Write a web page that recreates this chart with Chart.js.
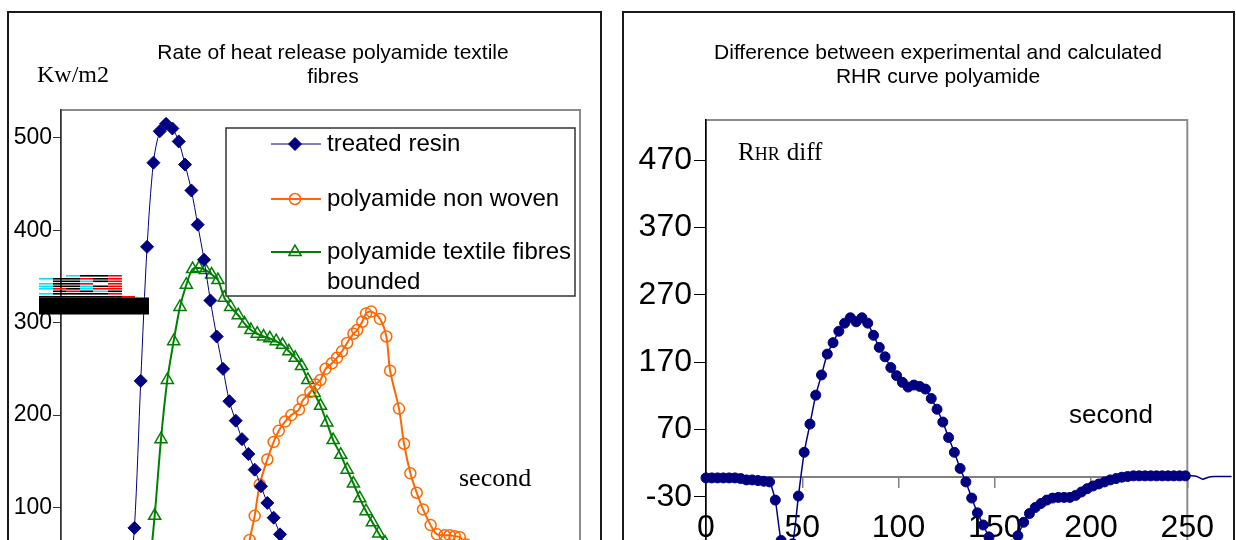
<!DOCTYPE html>
<html>
<head>
<meta charset="utf-8">
<script src="https://cdn.jsdelivr.net/npm/chart.js@4.4.0/dist/chart.umd.min.js"></script>
<style>
  html, body { margin: 0; padding: 0; background: #fff; overflow: hidden; }
  #page { position: relative; width: 1236px; height: 540px; overflow: hidden; }
  .panel { position: absolute; border: 2px solid #1a1a1a; box-sizing: border-box; }
  #panelL { left: 7px; top: 11px; width: 595px; height: 640px; }
  #panelR { left: 622px; top: 11px; width: 613px; height: 640px; }
  .wrap { position: absolute; top: 0; height: 640px; }
  #wrapL { left: 0; width: 610px; }
  #wrapR { left: 610px; width: 626px; }
</style>
</head>
<body>
<div id="page">
  <div class="panel" id="panelL"></div>
  <div class="panel" id="panelR"></div>
  <div class="wrap" id="wrapL"><canvas id="rhrChart"></canvas></div>
  <div class="wrap" id="wrapR"><canvas id="diffChart"></canvas></div>
</div>
<script>
// ---- left chart: rate of heat release (kW/m2 vs seconds)
const resinTime = [53, 58, 63, 68, 73, 78, 83, 88, 93, 98, 103, 108, 113, 118, 123, 128, 133, 138, 143, 148, 153, 158, 163, 168, 173, 178, 183];
const resinRhr  = [12, 78, 237, 382, 473, 507, 515, 510, 496, 471, 443, 406, 368, 324, 285, 250, 215, 194, 174, 158, 141, 123, 105, 89, 71, 55, 40];

const wovenTime = [145, 149, 153, 157, 163, 168, 172, 177, 182, 188, 191, 197, 201, 205, 209, 214, 218, 222, 226, 231, 234, 238, 241, 245, 252, 257, 260, 267, 271, 276, 281, 286, 292, 297, 303, 307, 311, 315, 320, 325];
const wovenRhr  = [35, 65, 91, 125, 152, 171, 183, 193, 200, 206, 216, 225, 233, 238, 250, 256, 262, 269, 278, 288, 292, 301, 310, 312, 304, 285, 248, 207, 169, 137, 116, 98, 81, 71, 70, 70, 69, 68, 60, 48];

const fibreTime = [69, 74, 79, 84, 89, 94, 99, 104, 109, 114, 119, 124, 129, 134, 140, 145, 150, 155, 160, 165, 170, 175, 180, 185, 190, 195, 200, 205, 210, 215, 221, 226, 231, 236, 241, 246, 251, 256, 261];
const fibreRhr  = [20, 91, 174, 238, 280, 317, 341, 358, 359, 357, 352, 346, 327, 317, 308, 299, 292, 288, 285, 283, 280, 276, 269, 262, 253, 238, 224, 210, 192, 173, 157, 141, 126, 110, 96, 84, 72, 62, 52];

const rhrTicks = [0, 100, 200, 300, 400, 500];

// ---- right chart: difference between experimental and calculated RHR
const diffTime = [0, 3, 6, 9, 12, 15, 18, 21, 24, 27, 30, 33, 36, 39, 42, 45, 48, 51, 54, 57, 60, 63, 66, 69, 72, 75, 78, 81, 84, 87, 90, 93, 96, 99, 102, 105, 108, 111, 114, 117, 120, 123, 126, 129, 132, 135, 138, 141, 144, 147, 150, 153, 156, 159, 162, 165, 168, 171, 174, 177, 180, 183, 186, 189, 192, 195, 198, 201, 204, 207, 210, 213, 216, 219, 222, 225, 228, 231, 234, 237, 240, 243, 246, 249, 252, 255, 258, 261, 264, 267, 270, 273];
const diffRhr  = [-2, -2, -2, -2, -2, -2, -3, -5, -5, -6, -7, -8, -35, -95, -105, -100, -29, 36, 78, 121, 151, 182, 199, 216, 228, 236, 230, 236, 228, 210, 192, 178, 162, 150, 140, 133, 136, 134, 130, 116, 100, 81, 58, 36, 12, -8, -32, -54, -72, -90, -105, -112, -112, -102, -88, -68, -55, -46, -40, -35, -32, -31, -31, -31, -28, -23, -18, -14, -11, -8, -5, -3, -1, 0, 1, 1, 1, 1, 1, 1, 1, 1, 1, 1, 1, 0, -4, -1, 0, 0, 0, 0];
const diffTicks = [-130, -30, 70, 170, 270, 370, 470];
const secTicks = [0, 50, 100, 150, 200, 250];

const NAVY = '#000080', ORANGE = '#ff6600', GREEN = '#008000';
const SANS = '"Liberation Sans", Arial, sans-serif';
const SERIF = '"Liberation Serif", "Times New Roman", serif';
const zip = (xs, ys) => xs.map((x, i) => ({ x: x, y: ys[i] }));

function plotBox(color) {
  return {
    id: 'plotBox',
    beforeDraw(chart) {
      const a = chart.chartArea, ctx = chart.ctx;
      ctx.save();
      ctx.strokeStyle = color;
      ctx.lineWidth = 2;
      ctx.strokeRect(a.left, a.top, a.right - a.left, a.bottom - a.top);
      ctx.restore();
    }
  };
}

// stray stripes that sit on the left axis in the original picture
const stripes = [
  [275, [[66, 80, '#00e5ff'], [80, 108, '#000'], [108, 122, '#ff0000']]],
  [278, [[39, 53, '#00e5ff'], [53, 80, '#000'], [80, 93, '#ff0000'], [93, 108, '#000'], [108, 122, '#ff0000']]],
  [280.5, [[53, 80, '#000'], [80, 93, '#00e5ff'], [93, 108, '#000'], [108, 122, '#ff0000']]],
  [283, [[39, 53, '#00e5ff'], [53, 80, '#000'], [80, 93, '#ff0000'], [108, 122, '#ff0000']]],
  [285.5, [[39, 53, '#00e5ff'], [53, 80, '#000'], [80, 93, '#00e5ff'], [93, 108, '#000'], [108, 122, '#ff0000']]],
  [288, [[39, 53, '#00e5ff'], [53, 66, '#ff0000'], [66, 80, '#000'], [80, 93, '#00e5ff'], [93, 122, '#ff0000']]],
  [290.5, [[53, 66, '#000'], [66, 80, '#ff0000'], [80, 93, '#000'], [93, 108, '#00e5ff'], [108, 122, '#000']]],
  [293, [[39, 53, '#00e5ff'], [53, 108, '#000'], [108, 122, '#ff0000']]],
  [296, [[39, 122, '#000'], [122, 135, '#ff0000']]]
];

const leftDeco = {
  id: 'leftDeco',
  afterDraw(chart) {
    const ctx = chart.ctx;
    ctx.save();
    ctx.fillStyle = '#000';
    ctx.textAlign = 'center';
    ctx.textBaseline = 'middle';
    ctx.font = '21px ' + SANS;
    ctx.fillText('Rate of heat release polyamide textile', 333, 53);
    ctx.fillText('fibres', 333, 77);
    ctx.textAlign = 'left';
    ctx.textBaseline = 'alphabetic';
    ctx.font = '24px ' + SERIF;
    ctx.fillText('Kw/m2', 37, 81.5);
    ctx.font = '26px ' + SERIF;
    ctx.fillText('second', 459, 486);

    // legend
    ctx.fillStyle = '#fff';
    ctx.fillRect(226, 128, 349, 168);
    ctx.strokeStyle = '#333';
    ctx.lineWidth = 1.5;
    ctx.strokeRect(226, 128, 349, 168);
    const rows = [144, 199, 252];
    chart.data.datasets.forEach((ds, i) => {
      const y = rows[i];
      ctx.strokeStyle = ds.borderColor;
      ctx.lineWidth = ds.borderWidth;
      ctx.beginPath();
      ctx.moveTo(271, y);
      ctx.lineTo(321, y);
      ctx.stroke();
      ctx.fillStyle = ds.pointBackgroundColor;
      ctx.lineWidth = ds.pointBorderWidth;
      Chart.helpers.drawPoint(ctx, { pointStyle: ds.pointStyle, radius: ds.pointRadius, rotation: 0, borderWidth: ds.pointBorderWidth }, 295, y);
      ctx.fillStyle = '#000';
      ctx.font = '24px ' + SANS;
      ctx.textBaseline = 'middle';
      ds.label.split('\n').forEach((t, j) => ctx.fillText(t, 327, y + j * 30));
    });

    stripes.forEach(([y, segs]) => {
      segs.forEach(([x0, x1, c]) => { ctx.fillStyle = c; ctx.fillRect(x0, y, x1 - x0, 1.6); });
    });
    ctx.fillStyle = '#000';
    ctx.fillRect(39, 297.5, 110, 17);
    ctx.restore();
  }
};

new Chart(document.getElementById('rhrChart'), {
  type: 'line',
  data: {
    datasets: [
      { label: 'treated resin', data: zip(resinTime, resinRhr), borderColor: NAVY, borderWidth: 1,
        pointStyle: 'rectRot', pointRadius: 6.5, pointBackgroundColor: NAVY, pointBorderColor: NAVY, pointBorderWidth: 1, tension: 0.3 },
      { label: 'polyamide non woven', data: zip(wovenTime, wovenRhr), borderColor: ORANGE, borderWidth: 2,
        pointStyle: 'circle', pointRadius: 5.5, pointBackgroundColor: 'rgba(0,0,0,0)', pointBorderColor: ORANGE, pointBorderWidth: 1.5, tension: 0.3 },
      { label: 'polyamide textile fibres\nbounded', data: zip(fibreTime, fibreRhr), borderColor: GREEN, borderWidth: 2,
        pointStyle: 'triangle', pointRadius: 7, pointBackgroundColor: 'rgba(0,0,0,0)', pointBorderColor: GREEN, pointBorderWidth: 1.5, tension: 0.3 }
    ]
  },
  options: {
    responsive: true,
    maintainAspectRatio: false,
    animation: false,
    layout: { padding: { top: 110, right: 30, bottom: 40, left: 0 } },
    plugins: { legend: { display: false }, tooltip: { enabled: false } },
    scales: {
      x: { type: 'linear', min: 0, max: 410, display: false },
      y: {
        min: 0, max: 530,
        afterBuildTicks: s => { s.ticks = rhrTicks.map(v => ({ value: v })); },
        afterFit: s => { s.width = 61; },
        grid: { drawOnChartArea: false, tickLength: 8, color: '#333' },
        border: { color: '#333', width: 1.5 },
        ticks: { color: '#000', padding: 1, font: { family: SANS, size: 23 } }
      }
    }
  },
  plugins: [plotBox('#8c8c8c'), leftDeco]
});

const rightDeco = {
  id: 'rightDeco',
  afterDraw(chart) {
    const ctx = chart.ctx;
    ctx.save();
    ctx.fillStyle = '#000';
    ctx.textAlign = 'center';
    ctx.textBaseline = 'middle';
    ctx.font = '21px ' + SANS;
    ctx.fillText('Difference between experimental and calculated', 328, 53);
    ctx.fillText('RHR curve polyamide', 328, 77);
    ctx.textAlign = 'left';
    ctx.textBaseline = 'alphabetic';
    ctx.font = '26px ' + SANS;
    ctx.fillText('second', 459, 423);
    // small-caps style label
    let x = 128;
    ctx.font = '25px ' + SERIF;
    ctx.fillText('R', x, 160);
    x += ctx.measureText('R').width;
    ctx.font = '18px ' + SERIF;
    ctx.fillText('HR', x, 160);
    x += ctx.measureText('HR').width + 7;
    ctx.font = '25px ' + SERIF;
    ctx.fillText('diff', x, 160);
    ctx.restore();
  }
};

new Chart(document.getElementById('diffChart'), {
  type: 'line',
  data: {
    datasets: [
      { label: 'RHR diff', data: zip(diffTime, diffRhr), borderColor: NAVY, borderWidth: 1.5,
        pointStyle: 'circle', pointBackgroundColor: NAVY, pointBorderColor: NAVY, pointBorderWidth: 1,
        pointRadius: c => (c.raw && c.raw.x > 250 ? 0 : 5), tension: 0.2, clip: false }
    ]
  },
  options: {
    responsive: true,
    maintainAspectRatio: false,
    animation: false,
    layout: { padding: { top: 120, right: 47, bottom: 76, left: 0 } },
    plugins: { legend: { display: false }, tooltip: { enabled: false } },
    scales: {
      x: {
        type: 'linear', bounds: 'data', position: { y: 0 },
        // range fixed here (not via min/max) so the trace past 250 is still drawn
        afterDataLimits: s => { s.min = 0; s.max = 250; },
        afterBuildTicks: s => { s.ticks = secTicks.map(v => ({ value: v })); },
        grid: { drawOnChartArea: false, tickLength: 10, color: '#808080', lineWidth: 1.5 },
        border: { color: '#808080', width: 2 },
        ticks: { color: '#000', padding: 22, autoSkip: false, maxRotation: 0, font: { family: SANS, size: 32 } }
      },
      y: {
        min: -130, max: 530,
        afterBuildTicks: s => { s.ticks = diffTicks.map(v => ({ value: v })); },
        afterFit: s => { s.width = 96; },
        grid: { drawOnChartArea: false, tickLength: 12, color: '#000' },
        border: { color: '#000', width: 1.5 },
        ticks: { color: '#000', padding: 2, font: { family: SANS, size: 32 } }
      }
    }
  },
  plugins: [plotBox('#8c8c8c'), rightDeco]
});
</script>
</body>
</html>
